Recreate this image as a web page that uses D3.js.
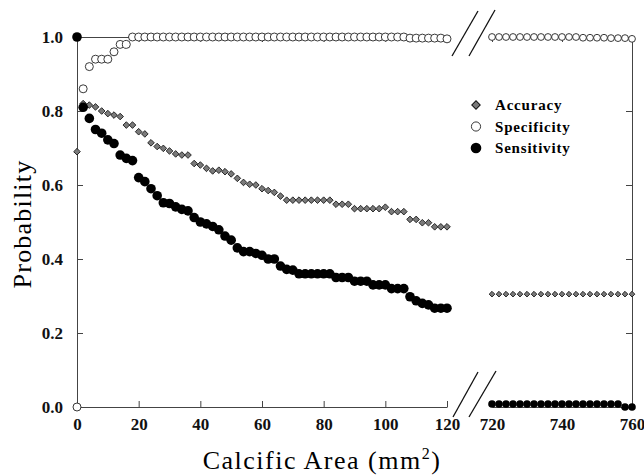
<!DOCTYPE html>
<html>
<head>
<meta charset="utf-8">
<script src="https://cdn.jsdelivr.net/npm/d3@7"></script>
<style>
  body { margin: 0; background: #fff; }
  svg { display: block; }
  .tick text { font-family: "Liberation Serif", "Times New Roman", serif; font-weight: bold; font-size: 17px; fill: #111; }
</style>
</head>
<body>
<div id="chart"></div>
<script>
// area values (mm^2), left panel 0-120, right panel 720-760
const areaLeft = [0, 2, 4, 6, 8, 10, 12, 14, 16, 18, 20, 22, 24, 26, 28, 30, 32, 34, 36, 38,
  40, 42, 44, 46, 48, 50, 52, 54, 56, 58, 60, 62, 64, 66, 68, 70, 72, 74, 76, 78,
  80, 82, 84, 86, 88, 90, 92, 94, 96, 98, 100, 102, 104, 106, 108, 110, 112, 114, 116, 118, 120];
const areaRight = [720, 722, 724, 726, 728, 730, 732, 734, 736, 738, 740,
  742, 744, 746, 748, 750, 752, 754, 756, 758, 760];

const accuracyLeft = [0.69, 0.82, 0.816, 0.811, 0.80, 0.793, 0.789, 0.785, 0.762, 0.762,
  0.744, 0.738, 0.714, 0.704, 0.699, 0.692, 0.684, 0.681, 0.681, 0.658,
  0.654, 0.645, 0.638, 0.64, 0.636, 0.63, 0.618, 0.607, 0.602, 0.60,
  0.59, 0.585, 0.58, 0.57, 0.559, 0.559, 0.559, 0.559, 0.559, 0.559,
  0.559, 0.559, 0.548, 0.548, 0.548, 0.536, 0.536, 0.536, 0.536, 0.536,
  0.54, 0.528, 0.528, 0.528, 0.507, 0.507, 0.498, 0.498, 0.487, 0.487, 0.487];
const specificityLeft = [0.0, 0.86, 0.92, 0.94, 0.94, 0.94, 0.96, 0.98, 0.98, 1.0,
  1.0, 1.0, 1.0, 1.0, 1.0, 1.0, 1.0, 1.0, 1.0, 1.0,
  1.0, 1.0, 1.0, 1.0, 1.0, 1.0, 1.0, 1.0, 1.0, 1.0,
  1.0, 1.0, 1.0, 1.0, 1.0, 1.0, 1.0, 1.0, 1.0, 1.0,
  1.0, 1.0, 1.0, 1.0, 1.0, 1.0, 1.0, 1.0, 1.0, 1.0,
  1.0, 1.0, 1.0, 1.0, 0.997, 0.997, 0.997, 0.997, 0.997, 0.997, 0.995];
const sensitivityLeft = [1.0, 0.81, 0.78, 0.75, 0.74, 0.722, 0.712, 0.681, 0.672, 0.666,
  0.62, 0.609, 0.59, 0.571, 0.552, 0.55, 0.541, 0.534, 0.53, 0.512,
  0.50, 0.495, 0.488, 0.479, 0.462, 0.451, 0.43, 0.42, 0.42, 0.415,
  0.41, 0.40, 0.40, 0.381, 0.372, 0.37, 0.36, 0.36, 0.36, 0.36,
  0.36, 0.36, 0.35, 0.35, 0.35, 0.34, 0.34, 0.34, 0.33, 0.33,
  0.33, 0.32, 0.32, 0.32, 0.298, 0.287, 0.28, 0.276, 0.267, 0.267, 0.267];

const accuracyRight = [0.305, 0.305, 0.305, 0.305, 0.305, 0.305, 0.305, 0.305, 0.305, 0.305, 0.305,
  0.305, 0.305, 0.305, 0.305, 0.305, 0.305, 0.305, 0.305, 0.305, 0.305];
const specificityRight = [1.0, 1.0, 1.0, 1.0, 1.0, 1.0, 1.0, 1.0, 1.0, 1.0, 1.0,
  1.0, 1.0, 0.998, 0.998, 0.998, 0.998, 0.997, 0.997, 0.997, 0.995];
const sensitivityRight = [0.008, 0.008, 0.008, 0.008, 0.008, 0.008, 0.008, 0.008, 0.008, 0.008, 0.008,
  0.008, 0.008, 0.008, 0.008, 0.008, 0.008, 0.008, 0.008, 0.0, 0.0];

const xTicksLeft = [0, 20, 40, 60, 80, 100, 120];
const xTicksRight = [720, 740, 760];
const yTicks = [0, 0.2, 0.4, 0.6, 0.8, 1.0];
const legendNames = ['Accuracy', 'Specificity', 'Sensitivity'];

const width = 644, height = 475;
const svg = d3.select('#chart').append('svg')
  .attr('width', width)
  .attr('height', height);

// scales: broken x axis, two panels
const xL = d3.scaleLinear().domain([0, 120]).range([77, 447]);
const xR = d3.scaleLinear().domain([720, 760]).range([492, 632]);
const y = d3.scaleLinear().domain([0, 1]).range([407, 37]);

const axisColor = '#444';
function styleAxis(g) {
  g.selectAll('.domain').attr('stroke', axisColor);
  g.selectAll('.tick line').attr('stroke', axisColor);
}

// bottom axes (ticks pointing up)
svg.append('g')
  .attr('transform', `translate(0,${y(0)})`)
  .call(d3.axisBottom(xL).tickValues(xTicksLeft).tickSizeInner(-6).tickSizeOuter(0).tickPadding(11))
  .call(styleAxis);
svg.append('g')
  .attr('transform', `translate(0,${y(0)})`)
  .call(d3.axisBottom(xR).tickValues(xTicksRight).tickSizeInner(-6).tickSizeOuter(0).tickPadding(11))
  .call(styleAxis);

// top axes, no labels
svg.append('g')
  .attr('transform', `translate(0,${y(1)})`)
  .call(d3.axisTop(xL).tickValues(xTicksLeft).tickSizeInner(-5).tickSizeOuter(0).tickFormat(''))
  .call(styleAxis);
svg.append('g')
  .attr('transform', `translate(0,${y(1)})`)
  .call(d3.axisTop(xR).tickValues(xTicksRight).tickSizeInner(-5).tickSizeOuter(0).tickFormat(''))
  .call(styleAxis);

// left axis with labels, right axis without
svg.append('g')
  .attr('transform', `translate(${xL(0)},0)`)
  .call(d3.axisLeft(y).tickValues(yTicks).tickSizeInner(-6).tickSizeOuter(0).tickPadding(14).tickFormat(d3.format('.1f')))
  .call(styleAxis);
svg.append('g')
  .attr('transform', `translate(${xR(760)},0)`)
  .call(d3.axisRight(y).tickValues(yTicks).tickSizeInner(-6).tickSizeOuter(0).tickFormat(''))
  .call(styleAxis);
svg.selectAll('.tick text').style('font-size', '17px');

// axis break marks
const breaks = [
  [[452, 56], [478, 11]], [[469, 56], [495, 10]],
  [[453, 417], [478, 372]], [[469, 417], [496, 371]]
];
svg.append('g').selectAll('line')
  .data(breaks)
  .enter()
  .append('line')
  .attr('x1', d => d[0][0]).attr('y1', d => d[0][1])
  .attr('x2', d => d[1][0]).attr('y2', d => d[1][1])
  .attr('stroke', '#111')
  .attr('stroke-width', 1.3);

// build point lists
function pts(xs, ys, sx) {
  return xs.map((a, i) => ({ x: sx(a), y: y(ys[i]) }));
}
const diamond = d3.symbol().type(d3.symbolSquare);

function drawSpec(data, r) {
  svg.append('g').selectAll('circle')
    .data(data).enter().append('circle')
    .attr('cx', d => d.x).attr('cy', d => d.y).attr('r', r)
    .attr('fill', '#fff').attr('stroke', '#222').attr('stroke-width', 0.9);
}
function drawAcc(data, size) {
  svg.append('g').selectAll('path')
    .data(data).enter().append('path')
    .attr('d', diamond.size(size)())
    .attr('transform', d => `translate(${d.x},${d.y}) rotate(45)`)
    .attr('fill', '#7a7a7a').attr('stroke', '#111').attr('stroke-width', 0.8);
}
function drawSens(data, r) {
  svg.append('g').selectAll('circle')
    .data(data).enter().append('circle')
    .attr('cx', d => d.x).attr('cy', d => d.y).attr('r', r)
    .attr('fill', '#000');
}

drawSpec(pts(areaLeft, specificityLeft, xL), 4.0);
drawSpec(pts(areaRight, specificityRight, xR), 3.4);
drawAcc(pts(areaLeft, accuracyLeft, xL), 22);
drawAcc(pts(areaRight, accuracyRight, xR), 16);
drawSens(pts(areaLeft, sensitivityLeft, xL), 4.8);
drawSens(pts(areaRight, sensitivityRight, xR), 3.8);

// legend
const legend = svg.append('g').attr('transform', 'translate(476,105)');
const items = legend.selectAll('g')
  .data(legendNames).enter().append('g')
  .attr('transform', (d, i) => `translate(0,${i * 21.5})`);
items.each(function (d, i) {
  const g = d3.select(this);
  if (i === 0) {
    g.append('path').attr('d', diamond.size(36)())
      .attr('transform', 'rotate(45)')
      .attr('fill', '#7a7a7a').attr('stroke', '#111').attr('stroke-width', 1);
  } else if (i === 1) {
    g.append('circle').attr('r', 4.6).attr('fill', '#fff').attr('stroke', '#222').attr('stroke-width', 0.9);
  } else {
    g.append('circle').attr('r', 5.3).attr('fill', '#000');
  }
});
items.append('text')
  .attr('x', 19)
  .attr('y', 5)
  .style('font-family', '"Liberation Serif", "Times New Roman", serif')
  .style('font-weight', 'bold')
  .style('font-size', '15px')
  .style('letter-spacing', '0.8px')
  .text(d => d);

// axis titles
svg.append('text')
  .attr('transform', 'translate(31,224) rotate(-90)')
  .attr('text-anchor', 'middle')
  .style('font-family', '"Liberation Serif", "Times New Roman", serif')
  .style('font-size', '26px')
  .style('letter-spacing', '1.2px')
  .text('Probability');

const xt = svg.append('text')
  .attr('x', 322)
  .attr('y', 469)
  .attr('text-anchor', 'middle')
  .style('font-family', '"Liberation Serif", "Times New Roman", serif')
  .style('font-size', '26px')
  .style('letter-spacing', '1.5px');
xt.append('tspan').text('Calcific Area (mm');
xt.append('tspan').attr('dy', -10).style('font-size', '16px').text('2');
xt.append('tspan').attr('dy', 10).text(')');
</script>
</body>
</html>
